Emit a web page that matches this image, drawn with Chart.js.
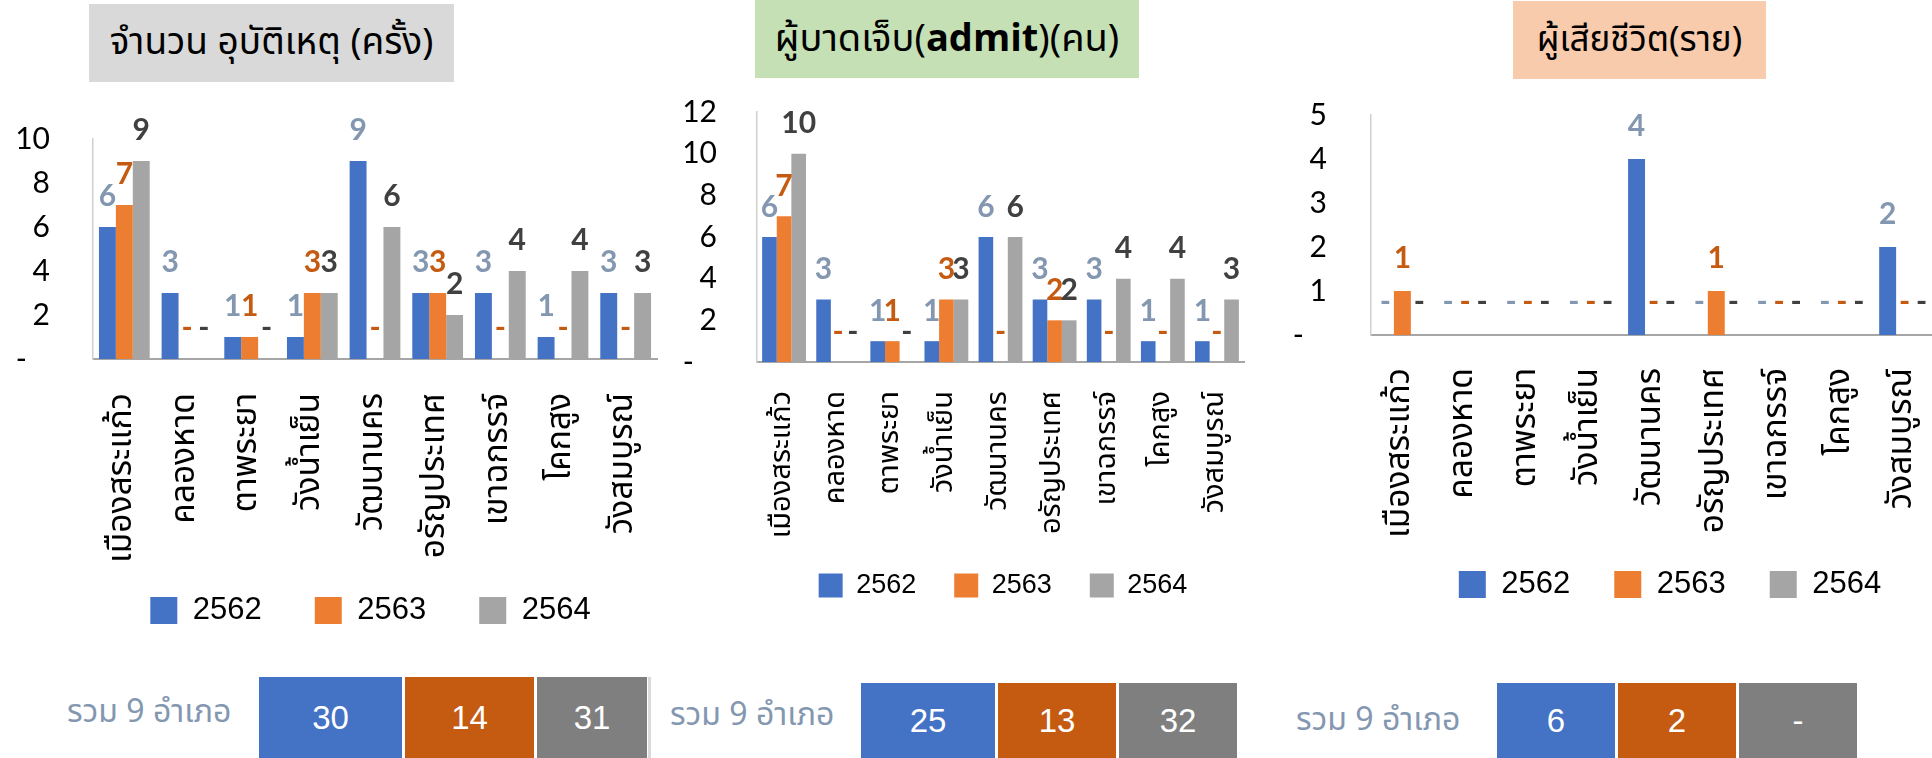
<!DOCTYPE html>
<html><head><meta charset="utf-8">
<script src="https://cdn.jsdelivr.net/npm/chart.js@4.4.1/dist/chart.umd.min.js"></script>
<style>
html,body{margin:0;padding:0;background:#fff;width:1932px;height:758px;overflow:hidden;position:relative;}
.title{position:absolute;display:flex;align-items:center;justify-content:center;font-family:'Noto Sans Thai','Noto Sans',sans-serif;color:#000;white-space:nowrap;}
canvas{position:absolute;}
.sumlabel{position:absolute;font-family:'Noto Sans Thai','Noto Sans',sans-serif;font-size:32px;color:#8497b0;white-space:nowrap;transform:translateY(-50%);}
.box{position:absolute;color:#fff;font-family:'Liberation Sans',Arial,sans-serif;font-size:33px;display:flex;align-items:center;justify-content:center;}
</style></head>
<body>
<div class="title" style="left:89px;top:4px;width:365px;height:78px;background:#d9d9d9;font-size:37px;">จำนวน อุบัติเหตุ (ครั้ง)</div>
<div class="title" style="left:755px;top:0px;width:384px;height:78px;background:#c5e0b4;font-size:38px;">ผู้บาดเจ็บ(<b>admit</b>)(คน)</div>
<div class="title" style="left:1513px;top:1px;width:253px;height:78px;background:#f8cbad;font-size:35px;">ผู้เสียชีวิต(ราย)</div>

<canvas id="c1" width="835" height="590" style="left:0px;top:78px;"></canvas>
<canvas id="c2" width="792" height="578" style="left:660px;top:54px;"></canvas>
<canvas id="c3" width="884" height="582" style="left:1290px;top:53px;"></canvas>

<div class="sumlabel" style="left:67px;top:712px;">รวม 9 อำเภอ</div>
<div class="sumlabel" style="left:670px;top:715px;">รวม 9 อำเภอ</div>
<div class="sumlabel" style="left:1296px;top:720px;">รวม 9 อำเภอ</div>
<div id="sums"></div>

<script>
// ---- data ----
const districts = ['เมืองสระแก้ว','คลองหาด','ตาพระยา','วังน้ำเย็น','วัฒนานคร','อรัญประเทศ','เขาฉกรรจ์','โคกสูง','วังสมบูรณ์'];
const years = ['2562','2563','2564'];

const accidents2562 = [6,3,1,1,9,3,3,1,3];
const accidents2563 = [7,0,1,3,0,3,0,0,0];
const accidents2564 = [9,0,0,3,6,2,4,4,3];

const injured2562 = [6,3,1,1,6,3,3,1,1];
const injured2563 = [7,0,1,3,0,2,0,0,0];
const injured2564 = [10,0,0,3,6,2,4,4,3];

const deaths2562 = [0,0,0,0,4,0,0,0,2];
const deaths2563 = [1,0,0,0,0,1,0,0,0];
const deaths2564 = [0,0,0,0,0,0,0,0,0];

const accidentTotals = ['30','14','31'];
const injuredTotals = ['25','13','32'];
const deathTotals = ['6','2','-'];

// ---- styles ----
const barColors = ['#4472c4','#ed7d31','#a5a5a5'];
const labelColors = ['#8497b0','#c55a11','#404040'];
const boxColors = ['#4472c4','#c55a11','#7f7f7f'];
const thaiFont = "'Noto Sans Thai','Noto Sans',sans-serif";

const valueLabels = {
  id:'valueLabels',
  afterDatasetsDraw(chart, args, opts){
    const ctx = chart.ctx;
    ctx.save();
    ctx.font = opts.font;
    ctx.textAlign = 'center';
    ctx.textBaseline = 'middle';
    chart.data.datasets.forEach((ds,i)=>{
      const meta = chart.getDatasetMeta(i);
      meta.data.forEach((bar,j)=>{
        const v = ds.data[j];
        ctx.fillStyle = labelColors[i];
        ctx.fillText(v === 0 ? '-' : String(v), bar.x, bar.y - opts.offset);
      });
    });
    ctx.restore();
  }
};

// shifts the legend block
const legendShift = {
  id:'legendShift',
  afterLayout(chart, args, opts){
    const lg = chart.legend;
    if (!lg) return;
    lg.left += opts.dx || 0; lg.right += opts.dx || 0;
    lg.top += opts.dy || 0; lg.bottom += opts.dy || 0;
  }
};

function makeChart(id, series, max, step, cfg){
  return new Chart(document.getElementById(id), {
    type:'bar',
    data:{
      labels: districts,
      datasets: series.map((d,i)=>({label:years[i], data:d, backgroundColor:barColors[i], borderWidth:0,
        categoryPercentage:0.81, barPercentage:1.0}))
    },
    options:{
      responsive:false, maintainAspectRatio:false, animation:false, devicePixelRatio:1,
      layout:{padding:{top:0, right:cfg.padRight, left:0, bottom:0}},
      plugins:{
        tooltip:{enabled:false},
        legend:{position:'bottom', labels:{boxWidth:cfg.box, boxHeight:cfg.box, padding:cfg.legPad,
          color:'#000', font:{family:"'Liberation Sans',Arial,sans-serif", size:cfg.legFont}}},
        valueLabels:{font:"bold 30px Lato, 'Open Sans', sans-serif", offset:cfg.labOff},
        legendShift:{dx:cfg.legDx, dy:cfg.legDy}
      },
      scales:{
        x:{
          grid:{display:false, drawTicks:false},
          border:{display:true, color:'#a6a6a6', width:2},
          ticks:{autoSkip:false, minRotation:90, maxRotation:90, padding:cfg.xPad, color:'#000',
            font:{family:thaiFont, size:cfg.xFont}},
          afterFit(s){ s.height = cfg.xH; }
        },
        y:{
          min:0, max:max,
          grid:{display:false, drawTicks:false},
          border:{display:true, color:'#d0d0d0', width:1.5},
          ticks:{autoSkip:false, stepSize:step, padding:cfg.yPad, color:'#000', font:{family:"Lato,'Open Sans',sans-serif", size:30},
            callback:(v)=> v === 0 ? '-   ' : v},
          afterFit(s){ s.width = cfg.yW; }
        }
      }
    },
    plugins:[valueLabels, legendShift]
  });
}

makeChart('c1', [accidents2562, accidents2563, accidents2564], 10, 2,
  {padRight:178, yW:93, yPad:43, xH:215, xPad:34, xFont:33.5, box:27, legPad:53, legFont:31, labOff:31, legDx:42, legDy:-32});
makeChart('c2', [injured2562, injured2563, injured2564], 12, 2,
  {padRight:208, yW:97, yPad:40, xH:195, xPad:29, xFont:29, box:24, legPad:38, legFont:27, labOff:30, legDx:51, legDy:-23});
makeChart('c3', [deaths2562, deaths2563, deaths2564], 5, 1,
  {padRight:238, yW:81, yPad:44, xH:215, xPad:33, xFont:33.5, box:27, legPad:44, legFont:31, labOff:33, legDx:57, legDy:-25});

// summary boxes (totals across 9 districts)
const sumLayouts = [
  {tot:accidentTotals, top:677, xs:[[259,402],[405,534],[537,647]]},
  {tot:injuredTotals, top:683, xs:[[861,995],[998,1116],[1119,1237]]},
  {tot:deathTotals, top:683, xs:[[1497,1615],[1618,1736],[1739,1857]]}
];
const sums = document.getElementById('sums');
sumLayouts.forEach(g=>{
  g.xs.forEach((r,i)=>{
    const d = document.createElement('div');
    d.className = 'box';
    d.style.left = r[0]+'px'; d.style.width = (r[1]-r[0])+'px';
    d.style.top = g.top+'px'; d.style.height = (758-g.top)+'px';
    d.style.background = boxColors[i];
    d.textContent = g.tot[i];
    sums.appendChild(d);
  });
});
const edge = document.createElement('div');
edge.style.cssText = 'position:absolute;left:648px;top:677px;width:3px;height:81px;background:#d9d9d9;';
sums.appendChild(edge);
</script>
</body></html>
